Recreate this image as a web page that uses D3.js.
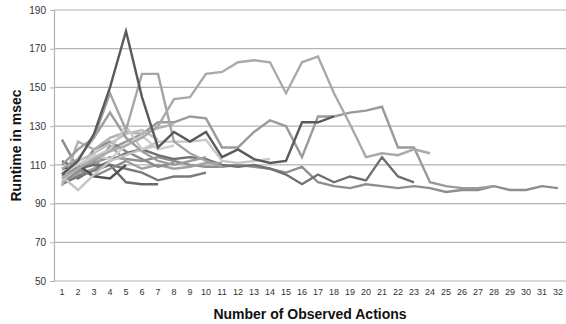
<!DOCTYPE html>
<html>
<head>
<meta charset="utf-8">
<script src="https://cdn.jsdelivr.net/npm/d3@7"></script>
<style>
  body { margin: 0; background: #fff; }
  svg { display: block; font-family: "Liberation Sans", Arial, Helvetica, sans-serif; }
</style>
</head>
<body>
<svg width="566" height="324"></svg>
<script>
// x categories: number of observed actions
const actions = d3.range(1, 33);
const yTicks = [50, 70, 90, 110, 130, 150, 170, 190];

// runtime series (msec), one array per run
const runA = [105, 112, 126, 150, 179, 145, 119, 127, 122, 127, 114, 118, 113, 111, 112, 132, 132, 135];
const runB = [103, 108, 113, 117, 120, 124, 130, 144, 145, 157, 158, 163, 164, 163, 147, 163, 166, 147, 131, 114, 116, 115, 118, 116];
const runC = [100, 106, 112, 118, 122, 126, 132, 132, 135, 134, 119, 119, 127, 133, 130, 114, 135, 135, 137, 138, 140, 119, 119, 101, 99, 98, 98, 99];
const runD = [104, 109, 111, 114, 113, 112, 114, 112, 110, 109, 109, 110, 109, 108, 106, 109, 101, 99, 98, 100, 99, 98, 99, 98, 96, 97, 97, 99, 97, 97, 99, 98];
const runE = [106, 103, 108, 112, 116, 118, 115, 113, 114, 113, 110, 109, 110, 108, 105, 100, 105, 101, 104, 102, 114, 104, 101];
const runF = [108, 113, 124, 147, 128, 157, 157, 122, 116, 112, 109];
const runG = [110, 118, 124, 137, 124, 117, 112, 110, 112, 114];
const runH = [102, 108, 114, 118, 130, 118, 122, 122, 122, 123, 112, 111, 112, 113];
const runI = [112, 108, 110, 110, 101, 100, 100];
const runJ = [100, 104, 107, 110, 108, 106, 102, 104, 104, 106];
const runK = [123, 108, 104, 108, 112];
const runL = [104, 97, 105, 112, 115, 118, 120];
const runM = [108, 110, 104, 103, 110];
const runN = [99, 122, 118, 124, 127, 126, 129, 131];
const runO = [106, 110, 115, 113, 120, 125, 118, 120];
const runP = [103, 105, 108, 120, 112, 108, 110, 108, 109, 111, 111];
const runQ = [101, 107, 118, 122, 117, 113, 109, 111];
const runR = [105, 112, 116, 121, 126, 128, 123];

const runs = [runD, runE, runC, runP, runJ, runI, runQ, runK, runM, runL, runN, runO, runR, runG, runH, runF, runB, runA];
const shades = ['#8e8e8e', '#707070', '#9a9a9a', '#a0a0a0', '#7a7a7a', '#6a6a6a', '#888888', '#8a8a8a', '#4f4f4f',
                '#c4c4c4', '#b0b0b0', '#cfcfcf', '#bdbdbd', '#9c9c9c', '#c8c8c8', '#a4a4a4', '#a9a9a9', '#5a5a5a'];

const svg = d3.select('svg');
const margin = {left: 54, right: 0, top: 10, bottom: 43};
const W = 566, H = 324;

const x = d3.scaleBand().domain(actions).range([margin.left, W - margin.right]);
const y = d3.scaleLinear().domain([50, 190]).range([H - margin.bottom, margin.top]);
const cx = d => x(d) + x.bandwidth() / 2;

// gridlines
svg.append('g')
    .selectAll('line')
    .data(yTicks)
    .enter()
    .append('line')
    .attr('x1', margin.left)
    .attr('x2', W - margin.right)
    .attr('y1', d => y(d))
    .attr('y2', d => y(d))
    .attr('stroke', '#b3b3b3')
    .attr('stroke-width', 1.2);

// y axis
const yAxis = svg.append('g')
    .attr('transform', `translate(${margin.left},0)`)
    .call(d3.axisLeft(y).tickValues(yTicks).tickSize(4).tickPadding(4));
yAxis.select('.domain').attr('stroke', '#b3b3b3').attr('stroke-width', 1.2);
yAxis.selectAll('.tick line').attr('stroke', '#b3b3b3');
yAxis.selectAll('text').attr('font-size', 10).attr('fill', '#333').attr('font-family', null);

// x axis labels
const xAxis = svg.append('g')
    .attr('transform', `translate(0,${H - margin.bottom})`)
    .call(d3.axisBottom(x).tickSize(0).tickPadding(8));
xAxis.select('.domain').remove();
xAxis.selectAll('text').attr('font-size', 9).attr('fill', '#333').attr('font-family', null);

// series
const line = d3.line()
    .x((d, i) => cx(actions[i]))
    .y(d => y(d));

svg.append('g')
    .attr('fill', 'none')
    .selectAll('path')
    .data(runs)
    .enter()
    .append('path')
    .attr('d', d => line(d))
    .attr('stroke', (d, i) => shades[i])
    .attr('stroke-width', 2.4)
    .attr('stroke-linejoin', 'miter')
    .attr('stroke-linecap', 'butt');

// titles
svg.append('text')
    .attr('x', (margin.left + W) / 2)
    .attr('y', 319)
    .attr('text-anchor', 'middle')
    .attr('font-size', 14)
    .attr('font-weight', 'bold')
    .attr('fill', '#111')
    .text('Number of Observed Actions');

svg.append('text')
    .attr('transform', `translate(21,${(margin.top + H - margin.bottom) / 2}) rotate(-90)`)
    .attr('text-anchor', 'middle')
    .attr('font-size', 14)
    .attr('font-weight', 'bold')
    .attr('fill', '#111')
    .text('Runtime in msec');
</script>
</body>
</html>
